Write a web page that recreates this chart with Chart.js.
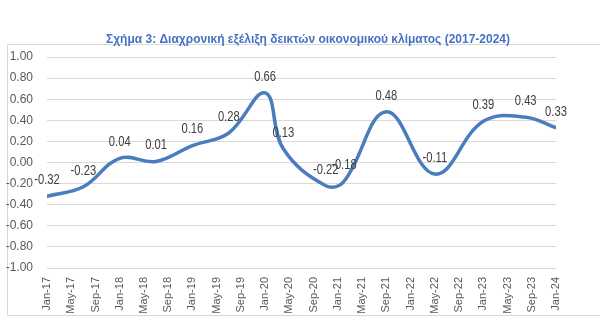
<!DOCTYPE html>
<html>
<head>
<meta charset="utf-8">
<script src="https://cdn.jsdelivr.net/npm/chart.js@4"></script>
<style>
  html, body { margin: 0; padding: 0; background: #fff; }
  #wrap { width: 600px; height: 330px; }
</style>
</head>
<body>
<div id="wrap"><canvas id="chart" width="600" height="330"></canvas></div>
<script>
const pointDates = ["Jan-17", "Jul-17", "Jan-18", "Jul-18", "Jan-19", "Jul-19", "Jan-20", "Apr-20",
  "Nov-20", "Feb-21", "Sep-21", "May-22", "Jan-23", "Aug-23", "Jan-24"]
const climateValues = [-0.32, -0.23, 0.04, 0.01, 0.16, 0.28, 0.66, 0.13,
  -0.22, -0.18, 0.48, -0.11, 0.39, 0.43, 0.33]

// x axis labels, one every 4 months
const tickLabels = ["Jan-17", "May-17", "Sep-17", "Jan-18", "May-18", "Sep-18", "Jan-19", "May-19",
  "Sep-19", "Jan-20", "May-20", "Sep-20", "Jan-21", "May-21", "Sep-21", "Jan-22", "May-22",
  "Sep-22", "Jan-23", "May-23", "Sep-23", "Jan-24"]

const titleText = "Σχήμα 3: Διαχρονική εξέλιξη δεικτών οικονομικού κλίματος (2017-2024)"

const monthNames = ["Jan", "Feb", "Mar", "Apr", "May", "Jun", "Jul", "Aug", "Sep", "Oct", "Nov", "Dec"]

// "Mon-YY" -> months since Jan-17
function monthIndex(label) {
  const [m, y] = label.split("-")
  return (parseInt(y, 10) - 17) * 12 + monthNames.indexOf(m)
}

const sans = "'Liberation Sans', Arial, sans-serif"

// draw text squeezed horizontally, like the source image
function squeezedText(ctx, text, x, y, sx) {
  ctx.save()
  ctx.translate(x, y)
  ctx.scale(sx, 1)
  ctx.fillText(text, 0, 0)
  ctx.restore()
}

// frame, title and value labels
const decorations = {
  id: "decorations",
  beforeDraw(chart) {
    const ctx = chart.ctx
    ctx.save()
    ctx.strokeStyle = "#d9d9d9"
    ctx.lineWidth = 1
    ctx.beginPath()
    ctx.moveTo(620, 44.5)
    ctx.lineTo(7.5, 44.5)
    ctx.lineTo(7.5, 315.5)
    ctx.lineTo(620, 315.5)
    ctx.stroke()
    ctx.restore()
  },
  afterDraw(chart) {
    const ctx = chart.ctx
    ctx.save()
    ctx.fillStyle = "#4472c4"
    ctx.font = "bold 13px " + sans
    ctx.textAlign = "center"
    ctx.textBaseline = "alphabetic"
    const w = ctx.measureText(titleText).width
    squeezedText(ctx, titleText, 308, 43, Math.min(1, 404 / w))
    ctx.restore()
  },
  afterDatasetsDraw(chart) {
    const ctx = chart.ctx
    const meta = chart.getDatasetMeta(0)
    ctx.save()
    ctx.fillStyle = "#404040"
    ctx.font = "14px " + sans
    ctx.textAlign = "center"
    ctx.textBaseline = "middle"
    meta.data.forEach((pt, i) => {
      squeezedText(ctx, climateValues[i].toFixed(2), pt.x, pt.y - 16, 0.8)
    })
    ctx.restore()
  }
}

new Chart(document.getElementById("chart"), {
  type: "line",
  data: {
    datasets: [{
      label: "Δείκτης οικονομικού κλίματος",
      data: pointDates.map((d, i) => ({ x: monthIndex(d), y: climateValues[i] })),
      borderColor: "#4a7dbd",
      borderWidth: 3.5,
      borderCapStyle: "round",
      borderJoinStyle: "round",
      tension: 0.4,
      pointRadius: 0,
      fill: false
    }]
  },
  options: {
    responsive: false,
    animation: false,
    layout: { padding: { top: 57, left: 0, right: 44, bottom: 0 } },
    plugins: {
      legend: { display: false },
      title: { display: false },
      tooltip: { enabled: false }
    },
    scales: {
      x: {
        type: "linear",
        min: 0,
        max: 84,
        afterFit(scale) { scale.height = 62 },
        afterBuildTicks(scale) {
          scale.ticks = tickLabels.map((t, i) => ({ value: i * 4 }))
        },
        grid: { display: false },
        border: { display: false },
        ticks: {
          autoSkip: false,
          minRotation: 90,
          maxRotation: 90,
          padding: 1,
          color: "#595959",
          font: { family: sans, size: 11 },
          callback: (v) => tickLabels[Math.round(v / 4)]
        }
      },
      y: {
        min: -1,
        max: 1,
        afterFit(scale) { scale.width = 47 },
        grid: { color: "#d9d9d9", lineWidth: 1, drawTicks: false },
        border: { display: false },
        ticks: {
          stepSize: 0.2,
          padding: 14,
          color: "#595959",
          font: { family: sans, size: 12 },
          callback: (v) => (Math.abs(v) < 1e-9 ? 0 : v).toFixed(2)
        }
      }
    }
  },
  plugins: [decorations]
})
</script>
</body>
</html>
